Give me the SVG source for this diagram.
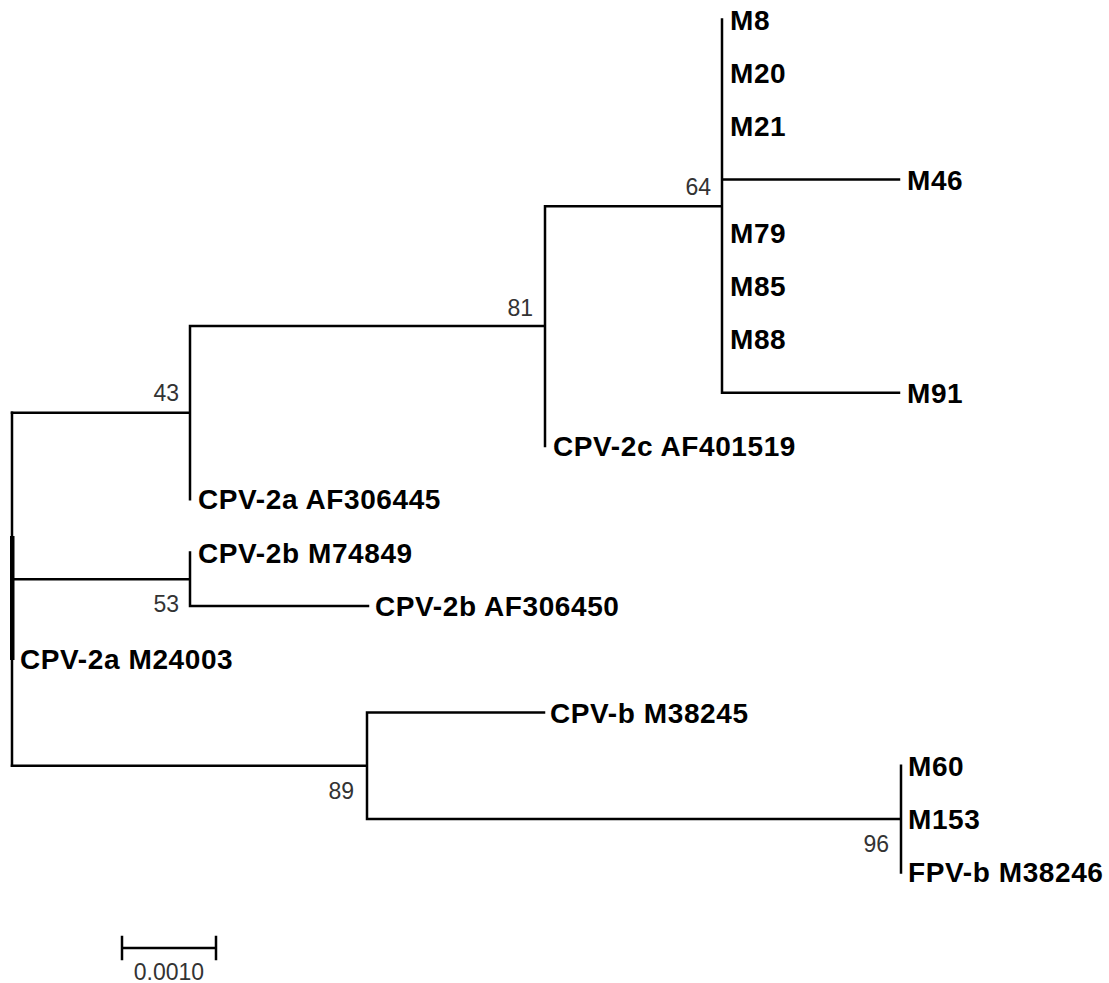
<svg xmlns="http://www.w3.org/2000/svg" width="1109" height="983" viewBox="0 0 1109 983">
<style>
.e{stroke:#000;stroke-width:2.5;fill:none;stroke-linecap:square}
.t{font-family:"Liberation Sans",Arial,sans-serif;font-weight:bold;font-size:28px;letter-spacing:0.6px;fill:#000}
.s{font-family:"Liberation Sans",Arial,sans-serif;font-size:23px;fill:#333;text-anchor:end}
</style>
<rect width="1109" height="983" fill="#fff"/>
<g id="connectors">
<path class="e" d="M12,412.7V765.8"/>
<rect x="10" y="536" width="4.5" height="124" fill="#000"/>
<path class="e" d="M12,412.7H190M190,326.1V499.3M190,326.1H545M545,206.2V446M545,206.2H722M722,19.6V392.7M722,179.5H899M722,392.7H899"/>
<path class="e" d="M12,579.3H190M190,552.6V605.9M190,605.9H368"/>
<path class="e" d="M12,765.8H367M367,712.5V819.1M367,712.5H544M367,819.1H901M901,765.8V872.4"/>
</g>
<g id="n64"><text class="s" x="711" y="195">64</text></g>
<g id="n81"><text class="s" x="533" y="316">81</text></g>
<g id="n43"><text class="s" x="179" y="401">43</text></g>
<g id="n53"><text class="s" x="179" y="612">53</text></g>
<g id="n89"><text class="s" x="354" y="799">89</text></g>
<g id="n96"><text class="s" x="889" y="852">96</text></g>
<g id="M8"><text class="t" x="730" y="29.6">M8</text></g>
<g id="M20"><text class="t" x="730" y="82.9">M20</text></g>
<g id="M21"><text class="t" x="730" y="136.2">M21</text></g>
<g id="M46"><text class="t" x="907" y="189.5">M46</text></g>
<g id="M79"><text class="t" x="730" y="242.8">M79</text></g>
<g id="M85"><text class="t" x="730" y="296.1">M85</text></g>
<g id="M88"><text class="t" x="730" y="349.4">M88</text></g>
<g id="M91"><text class="t" x="907" y="402.7">M91</text></g>
<g id="CPV2c_AF401519"><text class="t" x="553" y="456">CPV-2c AF401519</text></g>
<g id="CPV2a_AF306445"><text class="t" x="198" y="509.3">CPV-2a AF306445</text></g>
<g id="CPV2b_M74849"><text class="t" x="198" y="562.6">CPV-2b M74849</text></g>
<g id="CPV2b_AF306450"><text class="t" x="375" y="615.9">CPV-2b AF306450</text></g>
<g id="CPV2a_M24003"><text class="t" x="20" y="669.2">CPV-2a M24003</text></g>
<g id="CPVb_M38245"><text class="t" x="550" y="722.5">CPV-b M38245</text></g>
<g id="M60"><text class="t" x="908" y="775.8">M60</text></g>
<g id="M153"><text class="t" x="908" y="829.1">M153</text></g>
<g id="FPVb_M38246"><text class="t" x="908" y="882.4">FPV-b M38246</text></g>
<g id="scale">
<path class="e" d="M122,948H216M122,937V959M216,937V959" stroke-linecap="butt"/>
<text x="169" y="980" font-family="Liberation Sans,Arial,sans-serif" font-size="23" fill="#333" text-anchor="middle">0.0010</text>
</g>
</svg>
